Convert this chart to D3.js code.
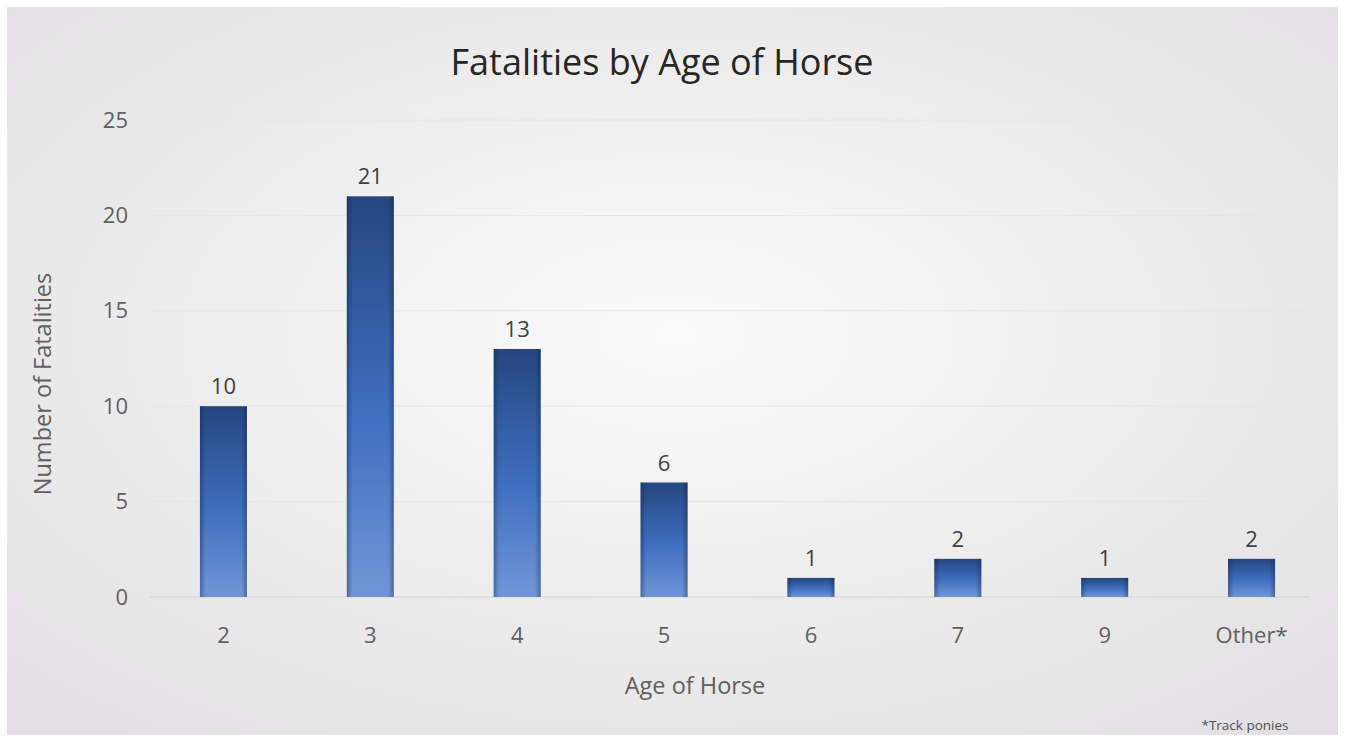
<!DOCTYPE html>
<html><head><meta charset="utf-8">
<script src="https://cdn.jsdelivr.net/npm/d3@7"></script>
<style>body{margin:0;background:#fff;}svg{display:block;}</style>
</head><body>
<svg id="chart" width="1345" height="742"></svg>
<script>
const categories = ["2","3","4","5","6","7","9","Other*"];
const values = [10,21,13,6,1,2,1,2];
const yTicks = [0,5,10,15,20,25];
const title = "Fatalities by Age of Horse";
const xTitle = "Age of Horse";
const yTitle = "Number of Fatalities";
const footnote = "*Track ponies";

const svg = d3.select("#chart");
const defs = svg.append("defs");
const bg = defs.append("radialGradient").attr("id","bg").attr("cx","50%").attr("cy","45%").attr("r","70%");
bg.append("stop").attr("offset","0%").attr("stop-color","#fbfbfb");
bg.append("stop").attr("offset","100%").attr("stop-color","#e2e0e2");
const bar = defs.append("linearGradient").attr("id","bar").attr("x1",0).attr("y1",0).attr("x2",0).attr("y2",1);
bar.append("stop").attr("offset","0%").attr("stop-color","#25467f");
bar.append("stop").attr("offset","55%").attr("stop-color","#3f6fbf");
bar.append("stop").attr("offset","100%").attr("stop-color","#7196d6");
const side = defs.append("linearGradient").attr("id","side").attr("x1",0).attr("y1",0).attr("x2",1).attr("y2",0);
side.append("stop").attr("offset","0%").attr("stop-color","#0a1a3a").attr("stop-opacity",0.35);
side.append("stop").attr("offset","12%").attr("stop-color","#0a1a3a").attr("stop-opacity",0);
side.append("stop").attr("offset","88%").attr("stop-color","#0a1a3a").attr("stop-opacity",0);
side.append("stop").attr("offset","100%").attr("stop-color","#0a1a3a").attr("stop-opacity",0.35);

svg.append("rect").attr("x",7).attr("y",7).attr("width",1331).attr("height",728).attr("fill","url(#bg)");

const x = d3.scaleBand().domain(categories).range([150,1325]).paddingInner(0.68).paddingOuter(0.34);
const y = d3.scaleLinear().domain([0,25]).range([597,120]);
const FONT = "Open Sans, sans-serif";

// gridlines
svg.append("g").selectAll("line").data(yTicks).join("line")
  .attr("x1",150).attr("x2",1310).attr("y1",d=>y(d)).attr("y2",d=>y(d))
  .attr("stroke",d=>d===0?"#d4d4d4":"#e6e6e6").attr("stroke-width",1);

// y axis
const yAxis = svg.append("g").attr("transform","translate(128,0)")
  .call(d3.axisLeft(y).tickValues(yTicks).tickSize(0).tickPadding(0));
yAxis.select(".domain").remove();
yAxis.selectAll("text").attr("font-family",FONT).attr("font-size",22).attr("fill","#606060");

// x axis
const xAxis = svg.append("g").attr("transform","translate(0,597)")
  .call(d3.axisBottom(x).tickSize(0).tickPadding(30));
xAxis.select(".domain").remove();
xAxis.selectAll("text").attr("font-family",FONT).attr("font-size",22).attr("fill","#606060");

// bars
const bars = svg.append("g");
bars.selectAll("rect.b").data(values).join("rect").attr("class","b")
  .attr("x",(d,i)=>x(categories[i])).attr("width",x.bandwidth())
  .attr("y",d=>y(d)).attr("height",d=>y(0)-y(d)).attr("fill","url(#bar)");
bars.selectAll("rect.s").data(values).join("rect").attr("class","s")
  .attr("x",(d,i)=>x(categories[i])).attr("width",x.bandwidth())
  .attr("y",d=>y(d)).attr("height",d=>y(0)-y(d)).attr("fill","url(#side)");

// labels
svg.append("g").selectAll("text").data(values).join("text")
  .attr("x",(d,i)=>x(categories[i])+x.bandwidth()/2).attr("y",d=>y(d)-12)
  .attr("text-anchor","middle").attr("font-family",FONT).attr("font-size",22).attr("fill","#404040")
  .text(d=>d);

svg.append("text").attr("x",662).attr("y",75).attr("text-anchor","middle")
  .attr("font-family",FONT).attr("font-size",36).attr("fill","#262626").text(title);
svg.append("text").attr("x",695).attr("y",694).attr("text-anchor","middle")
  .attr("font-family",FONT).attr("font-size",23.5).attr("fill","#606060").text(xTitle);
svg.append("text").attr("transform","translate(51,384) rotate(-90)").attr("text-anchor","middle")
  .attr("font-family",FONT).attr("font-size",23.5).attr("fill","#606060").text(yTitle);
svg.append("text").attr("x",1245).attr("y",730).attr("text-anchor","middle")
  .attr("font-family",FONT).attr("font-size",13.5).attr("fill","#505050").text(footnote);
</script>
</body></html>
